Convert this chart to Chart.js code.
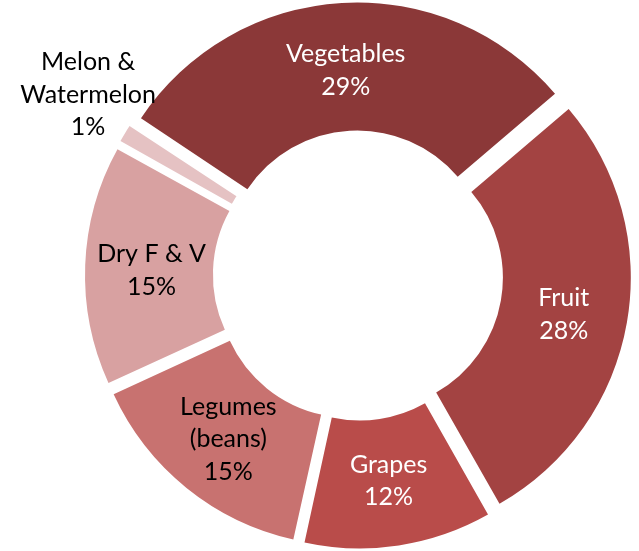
<!DOCTYPE html>
<html>
<head>
<meta charset="utf-8">
<script src="https://cdn.jsdelivr.net/npm/chart.js@4"></script>
<style>
  html, body { margin: 0; padding: 0; background: #fff; }
  #wrap { width: 639px; height: 551px; }
</style>
</head>
<body>
<div id="wrap"><canvas id="grafico"></canvas></div>
<script>
// dados
const categorias = ['Vegetables', 'Fruit', 'Grapes', 'Legumes\n(beans)', 'Dry F & V', 'Melon &\nWatermelon'];
const valores = [29.4, 28.0, 11.7, 14.7, 14.9, 1.3];
const cores = ['#8B3838', '#A34342', '#B94C4A', '#C87270', '#D8A1A1', '#E5C2C3'];
const corTexto = ['#ffffff', '#ffffff', '#ffffff', '#000000', '#000000', '#000000'];

const DESLOC = 52; // Chart.js desloca a fatia offset/4

// Chart.js também aumenta o raio da fatia em offset/4 * (1 - sin(ângulo)); desfaz isso
const semCrescer = {
    id: 'semCrescer',
    afterDatasetUpdate(chart) {
        chart.getDatasetMeta(0).data.forEach(arc => {
            const c = arc.endAngle - arc.startAngle;
            const ajuste = (arc.options.offset || 0) / 4 * (1 - Math.sin(Math.min(Math.PI, c)));
            arc.innerRadius -= ajuste;
            arc.outerRadius -= ajuste;
        });
    }
};

// rótulos dentro das fatias (ou fora, se a fatia for pequena)
const rotulos = {
    id: 'rotulos',
    afterDatasetsDraw(chart) {
        const ctx = chart.ctx;
        const meta = chart.getDatasetMeta(0);
        const total = valores.reduce((a, b) => a + b, 0);
        ctx.save();
        ctx.font = '25px Lato, "Open Sans", sans-serif';
        ctx.textAlign = 'center';
        ctx.textBaseline = 'middle';
        meta.data.forEach((arc, i) => {
            const p = arc.getProps(['x', 'y', 'startAngle', 'endAngle', 'innerRadius', 'outerRadius']);
            const off = (arc.options.offset || 0) / 4;
            const meio = (p.startAngle + p.endAngle) / 2;
            const pequena = valores[i] / total < 0.03;
            const alt = 32.5;
            const r = pequena ? p.outerRadius + off + 55 : (p.innerRadius + p.outerRadius) / 2 + off;
            const x = p.x + Math.cos(meio) * r;
            const y = p.y + Math.sin(meio) * r + (pequena ? -alt / 2 : 3);
            const linhas = categorias[i].split('\n');
            linhas.push(Math.round(valores[i] / total * 100) + '%');
            const y0 = y - (linhas.length - 1) * alt / 2;
            ctx.fillStyle = corTexto[i];
            linhas.forEach((l, k) => ctx.fillText(l, x, y0 + k * alt));
        });
        ctx.restore();
    }
};

new Chart(document.getElementById('grafico'), {
    type: 'doughnut',
    data: {
        labels: categorias,
        datasets: [{
            data: valores,
            backgroundColor: cores,
            borderWidth: 0,
            offset: DESLOC,
            clip: false
        }]
    },
    options: {
        responsive: true,
        maintainAspectRatio: false,
        animation: false,
        rotation: -56.3,
        radius: 260,
        cutout: '50.8%',
        layout: { padding: { left: 77, right: 0, top: 0, bottom: 0 } },
        plugins: {
            legend: { display: false },
            tooltip: { enabled: false }
        }
    },
    plugins: [semCrescer, rotulos]
});
</script>
</body>
</html>
